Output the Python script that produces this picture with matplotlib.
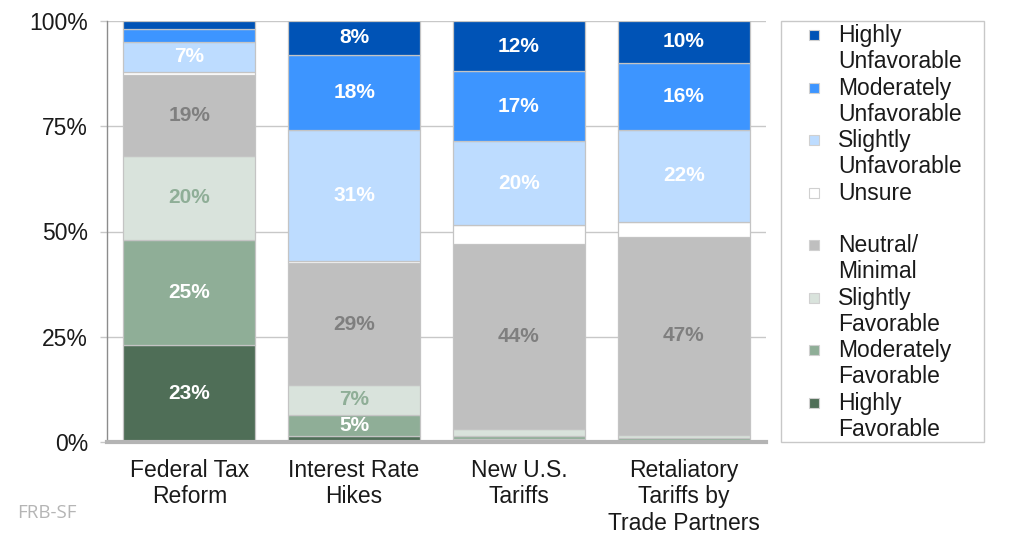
import matplotlib
matplotlib.use("Agg")
import matplotlib.pyplot as plt
from matplotlib.patches import Rectangle
import numpy as np

plt.rcParams['font.family'] = ['Liberation Sans', 'DejaVu Sans']

# Survey questions (x categories)
categories = ["Federal Tax\nReform", "Interest Rate\nHikes", "New U.S.\nTariffs",
              "Retaliatory\nTariffs by\nTrade Partners"]

# Response shares (%) stacked bottom to top
highly_favorable = [23.0, 1.5, 0.6, 0.2]
moderately_favorable = [25.0, 5.0, 0.8, 0.7]
slightly_favorable = [20.0, 7.0, 1.6, 0.8]
neutral_minimal = [19.1, 29.0, 44.0, 47.0]
unsure = [0.8, 0.5, 4.5, 3.5]
slightly_unfavorable = [7.1, 31.0, 20.0, 22.0]
moderately_unfavorable = [3.2, 18.0, 16.6, 15.9]
highly_unfavorable = [1.8, 8.0, 11.9, 9.9]

series_names = ["Highly\nFavorable", "Moderately\nFavorable", "Slightly\nFavorable",
                "Neutral/\nMinimal", "Unsure", "Slightly\nUnfavorable",
                "Moderately\nUnfavorable", "Highly\nUnfavorable"]
series_values = [highly_favorable, moderately_favorable, slightly_favorable,
                 neutral_minimal, unsure, slightly_unfavorable,
                 moderately_unfavorable, highly_unfavorable]
colors = ["#4f6e57", "#8fae97", "#d9e3dc", "#bfbfbf", "#ffffff",
          "#bddcff", "#3d95ff", "#0053b6"]
label_colors = ["white", "white", "#8fae97", "#7f7f7f", None,
                "white", "white", "white"]

TEXT_COLOR = "#1a1a1a"
FS = 16.5

fig = plt.figure(figsize=(10.12, 5.34), dpi=100)
ax = fig.add_axes([107 / 1012, 1 - 442 / 534, (766 - 107) / 1012, (442 - 21) / 534])

x = np.arange(len(categories))
bottom = np.zeros(len(categories))
for name, vals, col, lcol in zip(series_names, series_values, colors, label_colors):
    vals = np.array(vals)
    ax.bar(x, vals, width=0.8, bottom=bottom, color=col, edgecolor="#c4c4c4",
           linewidth=0.9, zorder=3)
    if lcol is not None:
        for xi, v, b in zip(x, vals, bottom):
            if v >= 5:
                ax.text(xi, b + v / 2, f"{v:.0f}%", ha="center", va="center",
                        color=lcol, fontsize=15, fontweight="bold", zorder=4)
    bottom += vals

ax.set_xlim(-0.5, len(categories) - 0.5)
ax.set_ylim(0, 100)
ax.set_yticks([0, 25, 50, 75, 100])
ax.set_yticklabels(["0%", "25%", "50%", "75%", "100%"], fontsize=FS, color=TEXT_COLOR)
ax.set_xticks(x)
ax.set_xticklabels(categories, fontsize=FS, color=TEXT_COLOR, linespacing=1.2)
ax.tick_params(axis="x", length=0, pad=12)
ax.tick_params(axis="y", length=5, width=1, color="#c8c8c8", pad=8.5)
ax.grid(axis="y", color="#c8c8c8", linewidth=1, zorder=0)
for s in ["top", "right"]:
    ax.spines[s].set_visible(False)
ax.spines["left"].set_color("#8c8c8c")
ax.spines["left"].set_linewidth(1)
ax.spines["bottom"].set_color("#b4b4b4")
ax.spines["bottom"].set_linewidth(3)
ax.spines["bottom"].set_zorder(5)

# Legend box, top series first
W, H = 1012, 534
def fx(px):
    return px / W
def fy(py):
    return 1 - py / H

fig.patches.append(Rectangle((fx(781), fy(442)), fx(984) - fx(781), fy(21) - fy(442),
                             transform=fig.transFigure, facecolor="white",
                             edgecolor="#c8c8c8", linewidth=1))
entry_y = [35, 88, 140, 193, 245, 298, 350, 403]
for i, (name, col) in enumerate(zip(series_names[::-1], colors[::-1])):
    yy = entry_y[i]
    fig.patches.append(Rectangle((fx(809), fy(yy + 5)), fx(819) - fx(809), fy(yy - 5) - fy(yy + 5),
                                 transform=fig.transFigure, facecolor=col,
                                 edgecolor="#d0d0d0", linewidth=0.8))
    for k, line in enumerate(name.split("\n")):
        fig.text(fx(838), fy(yy + 7 + 26 * k), line, ha="left", va="baseline",
                 fontsize=FS, color=TEXT_COLOR)

fig.text(fx(17), fy(513), "FRB-SF", ha="left", va="center", fontsize=13.5,
         color="#b5b5b5", family=["Open Sans", "DejaVu Sans"])

fig.savefig("out.png", dpi=100)
